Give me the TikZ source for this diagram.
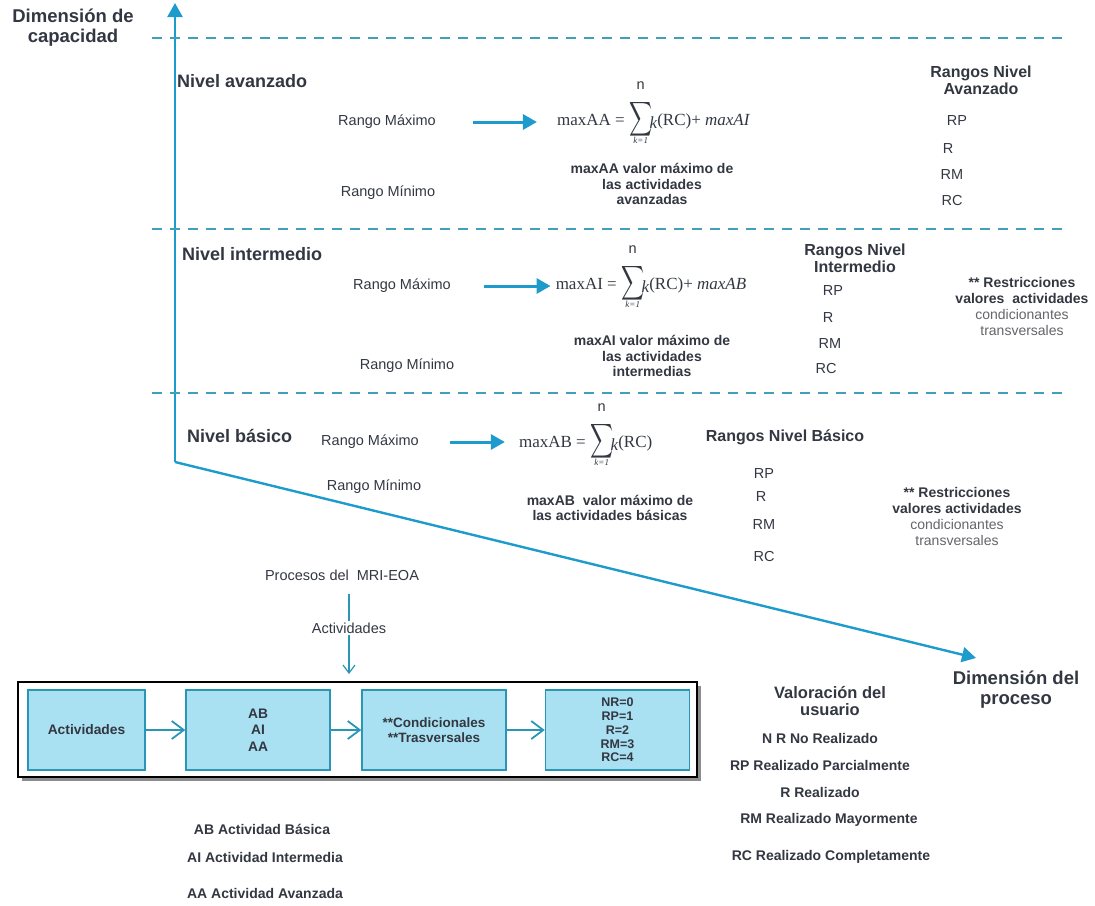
\documentclass[tikz,border=0pt]{standalone}
\usepackage{fontspec}
\setmainfont{Liberation Sans}
\newfontfamily\fserif{Liberation Serif}
\usepackage{graphicx}
\usetikzlibrary{arrows.meta,positioning,shadows}

\definecolor{axisblue}{RGB}{30,155,205}
\definecolor{dashteal}{RGB}{64,160,184}
\definecolor{boxfill}{RGB}{170,225,242}
\definecolor{boxline}{RGB}{40,150,180}
\definecolor{txtgray}{RGB}{50,55,65}
\definecolor{softgray}{RGB}{100,100,105}

\def\bigsum{\scalebox{1.6}[2.4]{$\displaystyle\sum$}}

\tikzset{
	every node/.style={text=txtgray, inner sep=1pt, align=center, font=\fontsize{14.5}{16}\selectfont},
	axis/.style={line width=2.4pt, draw=axisblue, -{Triangle[length=14pt,width=15pt]}},
	bigarrow/.style={line width=3pt, draw=axisblue, -{Triangle[length=14pt,width=15pt]}},
	levelline/.style={line width=1.8pt, draw=dashteal, dash pattern=on 10pt off 8pt},
	axtitle/.style={font=\fontsize{18.5}{20}\selectfont\bfseries},
	level/.style={font=\fontsize{18}{20}\selectfont\bfseries, anchor=west},
	rhead/.style={font=\fontsize{16}{17}\selectfont\bfseries},
	capt/.style={font=\fontsize{14}{15.5}\selectfont\bfseries},
	legend/.style={font=\fontsize{14}{16}\selectfont\bfseries},
	restr/.style={font=\fontsize{14}{16}\selectfont},
	form/.style={font=\fserif\fontsize{17}{19}\selectfont, inner sep=0pt},
	lim/.style={font=\fserif\itshape\fontsize{9}{9}\selectfont, inner sep=0pt},
	actbox/.style={draw=boxline, fill=boxfill, line width=1.5pt, minimum height=80pt, inner ysep=0pt, font=\fontsize{13.8}{16.5}\selectfont\bfseries},
	frame/.style={draw=black, fill=white, line width=2pt, minimum width=679pt, minimum height=95pt, drop shadow={shadow xshift=4pt, shadow yshift=-4pt, fill=black!45, opacity=1}},
	boxarrow/.style={line width=1.8pt, draw=boxline, -{Straight Barb[length=12pt,width=18pt]}},
	feed/.style={line width=1.2pt, draw=boxline}
}

\begin{document}
\begin{tikzpicture}[x=1pt,y=-1pt]
		%%%%% START %%%%%
		\useasboundingbox (0,0) rectangle (1095,905);
		
		\coordinate (origin) at (175,462);
		\coordinate (capTop) at (175,3);
		\coordinate (procEnd) at (976,658);
		\draw[axis] (origin) -- (capTop);
		\draw[axis] (origin) -- (procEnd);
		
		\draw[levelline] (152,38) -- (1066,38);
		\draw[levelline] (152,229) -- (1066,229);
		\draw[levelline] (152,393) -- (1066,393);
		
		\node[axtitle] (capTitle) at (73,28) {Dimensión de\\capacidad};
		\node[axtitle] (procTitle) at (1016,690) {Dimensión del\\proceso};
		
		%% nivel avanzado
		\node[level] (nivA) at (176,81) {Nivel avanzado};
		\node (rMaxA) at (387,122) {Rango Máximo};
		\node (rMinA) at (388,193) {Rango Mínimo};
		\node[form, anchor=base east] (lhsAA) at (625,125) {maxAA =};
		\node[right=3pt of lhsAA] (sumAA) {\bigsum};
		\node[above=8pt of sumAA] (nAA) {n};
		\node[lim, below=-3pt of sumAA] (kAA) {k=1};
		\node[form, anchor=base west] (rhsAA) at ([xshift=-4pt]sumAA.east |- lhsAA.base) {\raisebox{-3pt}{\itshape k}(RC)+ \textit{maxAI}};
		\draw[bigarrow, shorten <=36pt, shorten >=20pt] (rMaxA.east) -- (rMaxA.east -| lhsAA.west);
		\node[capt] (capAA) at (652,184) {maxAA valor máximo de\\las actividades\\avanzadas};
		\node[rhead] (hA) at (981,80) {Rangos Nivel\\Avanzado};
		\node (rpA) at (957,121) {RP};
		\node (rA) at (948,149) {R};
		\node (rmA) at (952,175) {RM};
		\node (rcA) at (952,201) {RC};
		
		%% nivel intermedio
		\node[level] (nivI) at (181,254) {Nivel intermedio};
		\node (rMaxI) at (402,286) {Rango Máximo};
		\node (rMinI) at (407,366) {Rango Mínimo};
		\node[form, anchor=base east] (lhsAI) at (617,289) {maxAI =};
		\node[right=3pt of lhsAI] (sumAI) {\bigsum};
		\node[above=8pt of sumAI] (nAI) {n};
		\node[lim, below=-3pt of sumAI] (kAI) {k=1};
		\node[form, anchor=base west] (rhsAI) at ([xshift=-4pt]sumAI.east |- lhsAI.base) {\raisebox{-3pt}{\itshape k}(RC)+ \textit{maxAB}};
		\draw[bigarrow, shorten <=32pt, shorten >=5pt] (rMaxI.east) -- (rMaxI.east -| lhsAI.west);
		\node[capt] (capAI) at (652,356) {maxAI valor máximo de\\las actividades\\intermedias};
		\node[rhead] (hI) at (855,258) {Rangos Nivel\\Intermedio};
		\node (rpI) at (833,291) {RP};
		\node (rI) at (828,318) {R};
		\node (rmI) at (830,344) {RM};
		\node (rcI) at (826,369) {RC};
		\node[restr] (resI) at (1022,306) {\textbf{** Restricciones}\\\textbf{valores\ \ actividades}\\{\color{softgray}condicionantes}\\{\color{softgray}transversales}};
		
		%% nivel basico
		\node[level] (nivB) at (186,436) {Nivel básico};
		\node (rMaxB) at (370,442) {Rango Máximo};
		\node (rMinB) at (374,487) {Rango Mínimo};
		\node[form, anchor=base east] (lhsAB) at (586,447) {maxAB =};
		\node[right=3pt of lhsAB] (sumAB) {\bigsum};
		\node[above=8pt of sumAB] (nAB) {n};
		\node[lim, below=-3pt of sumAB] (kAB) {k=1};
		\node[form, anchor=base west] (rhsAB) at ([xshift=-4pt]sumAB.east |- lhsAB.base) {\raisebox{-3pt}{\itshape k}(RC)};
		\draw[bigarrow, shorten <=30pt, shorten >=14pt] (rMaxB.east) -- (rMaxB.east -| lhsAB.west);
		\node[capt] (capAB) at (610,508) {maxAB\ \ valor máximo de\\las actividades básicas};
		\node[rhead] (hB) at (785,437) {Rangos Nivel Básico};
		\node (rpB) at (764,474) {RP};
		\node (rB) at (761,497) {R};
		\node (rmB) at (764,525) {RM};
		\node (rcB) at (764,557) {RC};
		\node[restr] (resB) at (957,516) {\textbf{** Restricciones}\\\textbf{valores actividades}\\{\color{softgray}condicionantes}\\{\color{softgray}transversales}};
		
		%% procesos y actividades
		\node (proc) at (342,575) {Procesos del\ \ MRI-EOA};
		\node[frame] (frame) at (357.5,729.5) {};
		\node (actLbl) at (349,628) {Actividades};
		\draw[feed, shorten <=12pt] (proc.south -| actLbl) -- (actLbl.north);
		\draw[feed, -{Straight Barb[length=8pt,width=12pt]}, shorten >=7pt] (actLbl.south) -- (actLbl.south |- frame.north);
		
		\node[actbox, minimum width=117pt] (bAct) at (86.5,730) {Actividades};
		\node[actbox, minimum width=144pt] (bLev) at (258,730) {AB\\AI\\AA};
		\node[actbox, minimum width=144pt, font=\fontsize{13.5}{15}\selectfont\bfseries] (bCond) at (434,730) {**Condicionales\\**Trasversales};
		\node[actbox, minimum width=144pt, font=\fontsize{12.5}{13.75}\selectfont\bfseries] (bVal) at (617.5,730) {NR=0\\RP=1\\R=2\\RM=3\\RC=4};
		\draw[boxarrow] (bAct) -- (bLev);
		\draw[boxarrow] (bLev) -- (bCond);
		\draw[boxarrow] (bCond) -- (bVal);
		
		%% valoracion
		\node[rhead, font=\fontsize{16.5}{17}\selectfont\bfseries] (valH) at (830,701) {Valoración del\\usuario};
		\node[legend] (vNR) at (820,738) {N R No Realizado};
		\node[legend] (vRP) at (820,765) {RP Realizado Parcialmente};
		\node[legend] (vR) at (820,792) {R Realizado};
		\node[legend] (vRM) at (829,820) {RM Realizado Mayormente};
		\node[legend] (vRC) at (831,857) {RC Realizado Completamente};
		
		\node[legend] (lAB) at (262,829) {AB Actividad Básica};
		\node[legend] (lAI) at (265,857) {AI Actividad Intermedia};
		\node[legend] (lAA) at (265,893) {AA Actividad Avanzada};
		
		%%%%% END %%%%%
\end{tikzpicture}
\end{document}
